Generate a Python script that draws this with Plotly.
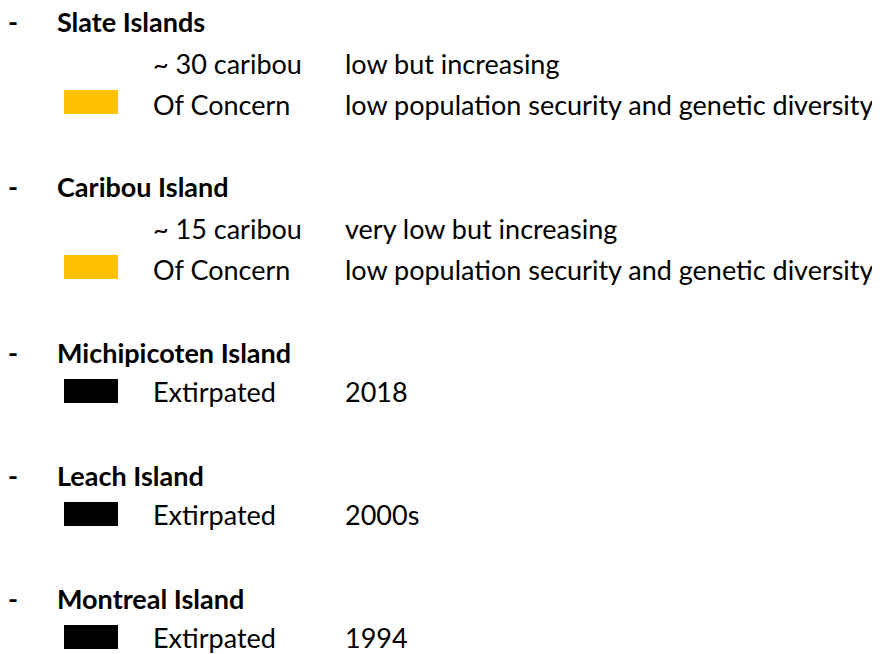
import plotly.graph_objects as go

# ---- data ----
islands = ["Slate Islands", "Caribou Island", "Michipicoten Island", "Leach Island", "Montreal Island"]
counts = ["~ 30 caribou", "~ 15 caribou", None, None, None]
trends = ["low but increasing", "very low but increasing", None, None, None]
statuses = ["Of Concern", "Of Concern", "Extirpated", "Extirpated", "Extirpated"]
notes = ["low population security and genetic diversity",
         "low population security and genetic diversity",
         "2018", "2000s", "1994"]
status_colors = {"Of Concern": "#FFC000", "Extirpated": "#000000"}

# ---- layout constants (screen pixels) ----
W, H = 880, 654
OFF = 8  # default page body margin
FS = 27
FONT = "Lato"
X_DASH, X_NAME, X_COL1, X_COL2 = 10, 56, 152, 344
BOX_X0, BOX_X1, BOX_HALF = 64, 118, 12
header_y = [21, 186, 352, 475, 598]

fig = go.Figure()
shapes = []
annotations = []

def txt(x, y, s, bold=False, xshift=0):
    annotations.append(dict(
        x=x, y=y, xref="x", yref="y", text=(f"<b>{s}</b>" if bold else s),
        showarrow=False, xanchor="left", yanchor="middle", borderpad=0,
        xshift=xshift,
        font=dict(family=FONT, size=FS, color="#000000")))

for i, name in enumerate(islands):
    hy = header_y[i]
    txt(X_DASH, hy, "-", bold=True, xshift=-3)
    txt(X_NAME, hy, name, bold=True)
    if counts[i]:
        txt(X_COL1, hy + 42, counts[i])
        txt(X_COL2, hy + 42, trends[i])
        sy, by = hy + 83, hy + 81
    else:
        sy, by = hy + 39, hy + 39
    txt(X_COL1, sy, statuses[i])
    txt(X_COL2, sy, notes[i])
    shapes.append(dict(type="rect", xref="x", yref="y",
                       x0=BOX_X0, x1=BOX_X1, y0=by - BOX_HALF, y1=by + BOX_HALF,
                       fillcolor=status_colors[statuses[i]], line=dict(width=0)))

fig.update_layout(
    width=W - OFF, height=H - OFF, margin=dict(l=0, r=0, t=0, b=0),
    paper_bgcolor="white", plot_bgcolor="white",
    xaxis=dict(range=[OFF, W], visible=False, fixedrange=True),
    yaxis=dict(range=[H, OFF], visible=False, fixedrange=True),
    shapes=shapes, annotations=annotations, showlegend=False)

fig.write_html("out.html")
